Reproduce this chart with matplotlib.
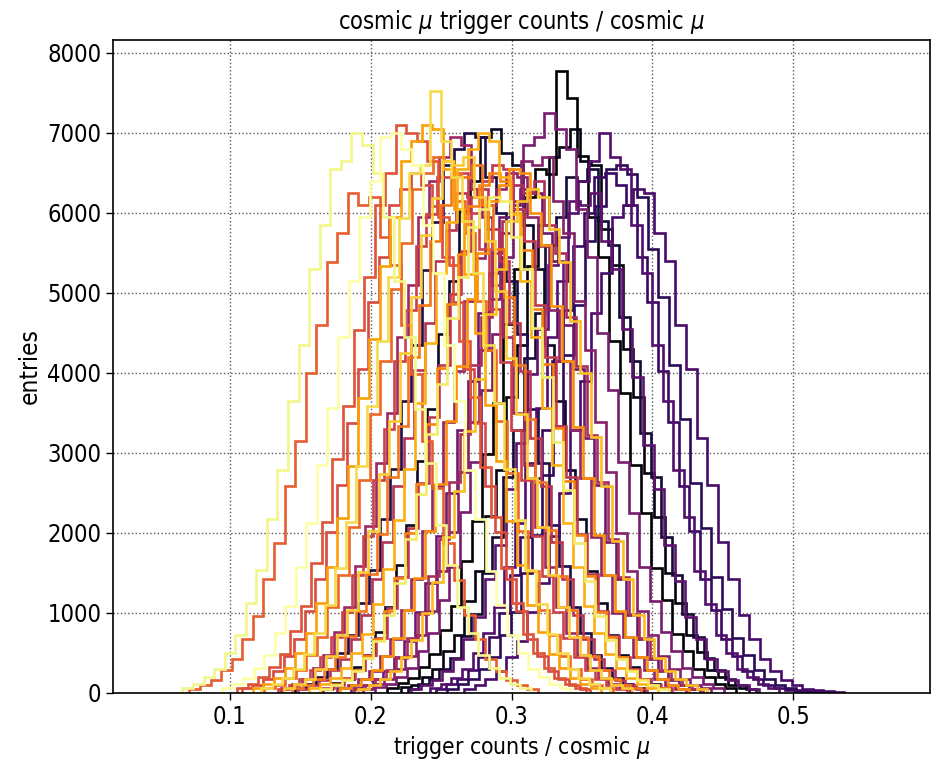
import numpy as np
import matplotlib
matplotlib.use("Agg")
import matplotlib.pyplot as plt

plt.rcParams["font.family"] = "DejaVu Sans"
plt.rcParams["font.stretch"] = "condensed"

# bin width shared by all runs, left edge of each run's first bin
bin_width = 0.0075
starts = [0.2116, 0.22125, 0.16525, 0.22625, 0.14625, 0.25425, 0.24625, 0.26625,
          0.24225, 0.22825, 0.18625, 0.20325, 0.19425, 0.17625, 0.13625, 0.18825,
          0.14825, 0.16625, 0.13425, 0.10825, 0.10525, 0.07125, 0.12425, 0.14425,
          0.16425, 0.17825, 0.11625, 0.15625, 0.19125, 0.13825, 0.12225, 0.16425,
          0.06625, 0.09425]

run_01 = [60, 120, 185, 330, 490, 790, 1090, 1650, 2150, 2980, 3620, 4610, 5300, 6200, 6550, 6480, 7770,
          7430, 6710, 5950, 5450, 4400, 3750, 2850, 2250, 1560, 1160, 740, 520, 300, 200, 110, 60]
run_02 = [70, 105, 200, 295, 520, 720, 1150, 1530, 2210, 2790, 3700, 4350, 5330, 5850, 6700, 6820, 7050,
          6650, 6600, 5800, 5350, 4300, 3700, 2750, 2200, 1500, 1130, 720, 510, 290, 200, 105, 60]
run_03 = [55, 120, 180, 320, 470, 760, 1070, 1600, 2100, 2900, 3550, 4480, 5150, 6020, 6400, 6950, 7050,
          6750, 6600, 5850, 5300, 4350, 3650, 2780, 2180, 1520, 1120, 730, 480, 320, 180, 110, 60]
run_04 = [50, 110, 170, 300, 440, 710, 990, 1500, 1950, 2700, 3280, 4180, 4750, 5600, 5950, 6450, 6400,
          6550, 5900, 5600, 4700, 4150, 3250, 2700, 1950, 1480, 990, 700, 440, 290, 170, 100, 55]
run_05 = [65, 110, 195, 300, 500, 730, 1120, 1540, 2180, 2800, 3650, 4350, 5280, 5880, 6600, 6800, 7000,
          6950, 6450, 6000, 5150, 4480, 3550, 2870, 2100, 1590, 1080, 750, 480, 310, 185, 110, 60]
run_06 = [55, 110, 175, 295, 450, 720, 1010, 1500, 1980, 2720, 3330, 4220, 4850, 5650, 6080, 6550, 6600,
          6480, 6200, 5550, 4950, 4100, 3420, 2620, 2060, 1450, 1050, 690, 470, 285, 180, 105, 60, 35, 20, 10]
run_07 = [50, 110, 170, 290, 450, 700, 1000, 1480, 1950, 2680, 3290, 4150, 4780, 5580, 6000, 6450, 6500,
          6350, 6100, 5450, 4880, 4020, 3380, 2580, 2020, 1420, 1040, 680, 460, 280, 180, 100, 60, 35, 20, 10]
run_08 = [55, 100, 170, 280, 450, 650, 1010, 1380, 1960, 2500, 3290, 3900, 4750, 5250, 5950, 6100, 6300,
          6250, 5750, 5400, 4600, 4050, 3180, 2600, 1890, 1430, 970, 680, 430, 280, 165, 100, 55, 35, 20, 10]
run_09 = [60, 115, 190, 300, 500, 750, 1080, 1580, 2120, 2870, 3560, 4450, 5150, 6000, 6400, 6650, 7000,
          6700, 6550, 5850, 5250, 4350, 3650, 2790, 2200, 1530, 1110, 730, 500, 300, 195, 110, 65]
run_10 = [50, 100, 160, 280, 420, 680, 950, 1420, 1850, 2550, 3120, 3980, 4550, 5350, 5700, 6150, 6100,
          6250, 5650, 5300, 4550, 3950, 3100, 2550, 1850, 1400, 950, 670, 420, 280, 160, 95, 55]
run_11 = [60, 95, 175, 270, 450, 650, 1010, 1380, 1960, 2500, 3290, 3900, 4750, 5250, 5950, 6100, 6300,
          6250, 5750, 5400, 4600, 4050, 3180, 2600, 1890, 1430, 970, 680, 430, 280, 165, 100, 55]
run_12 = [70, 110, 200, 310, 520, 750, 1160, 1580, 2260, 2880, 3780, 4480, 5450, 6050, 6850, 6950, 7250,
          7050, 6800, 6050, 5450, 4500, 3780, 2880, 2250, 1580, 1150, 760, 520, 310, 200, 110, 65]
run_13 = [55, 110, 175, 300, 460, 730, 1030, 1530, 2010, 2760, 3380, 4290, 4920, 5750, 6150, 6650, 6600,
          6700, 6150, 5750, 4900, 4280, 3380, 2760, 2000, 1520, 1030, 720, 460, 300, 175, 105, 60]
run_14 = [60, 100, 180, 280, 465, 670, 1040, 1420, 2020, 2580, 3380, 4020, 4900, 5430, 6100, 6300, 6500,
          6450, 5950, 5580, 4780, 4150, 3280, 2680, 1950, 1480, 1000, 700, 450, 290, 170, 105, 55]
run_15 = [60, 115, 180, 315, 475, 760, 1070, 1590, 2090, 2870, 3500, 4450, 5100, 5950, 6400, 6700, 6950,
          6850, 6300, 5950, 5100, 4450, 3500, 2850, 2080, 1580, 1070, 750, 480, 310, 185, 110, 60]
run_16 = [55, 105, 170, 290, 440, 690, 990, 1460, 1920, 2630, 3230, 4100, 4700, 5500, 5900, 6350, 6250,
          6400, 5850, 5500, 4700, 4080, 3220, 2630, 1920, 1450, 990, 690, 440, 285, 170, 100, 55]
run_17 = [55, 105, 165, 285, 430, 680, 970, 1430, 1890, 2590, 3180, 4030, 4620, 5400, 5780, 6250, 6200,
          6300, 5800, 5400, 4620, 4020, 3180, 2590, 1890, 1430, 970, 680, 430, 285, 165, 100, 55]
run_18 = [60, 100, 185, 285, 470, 690, 1060, 1450, 2060, 2620, 3450, 4100, 4980, 5520, 6200, 6400, 6600,
          6550, 6050, 5650, 4850, 4200, 3330, 2700, 1990, 1490, 1020, 710, 455, 295, 175, 105, 60]
run_19 = [55, 105, 170, 290, 450, 700, 1010, 1470, 1960, 2660, 3300, 4150, 4780, 5580, 5980, 6450, 6450,
          6500, 6000, 5550, 4800, 4130, 3290, 2660, 1960, 1460, 1010, 690, 450, 290, 175, 105, 55]
run_20 = [60, 100, 180, 280, 460, 680, 1030, 1430, 2010, 2600, 3370, 4050, 4880, 5450, 6100, 6300, 6500,
          6350, 6080, 5450, 4880, 4050, 3370, 2590, 2010, 1430, 1030, 680, 460, 280, 180, 100, 55]
run_21 = [65, 110, 195, 320, 490, 770, 1090, 1620, 2140, 2920, 3580, 4540, 5200, 6100, 6500, 7100, 7000,
          6900, 6650, 5950, 5350, 4400, 3700, 2820, 2200, 1560, 1130, 740, 500, 310, 190, 115, 60]
run_22 = [55, 105, 165, 285, 430, 680, 960, 1420, 1880, 2580, 3150, 4000, 4600, 5380, 5750, 6250, 6100,
          6200, 5700, 5350, 4600, 3980, 3150, 2560, 1880, 1410, 970, 670, 430, 280, 165, 100, 55]
run_23 = [60, 105, 185, 290, 475, 700, 1070, 1470, 2080, 2660, 3490, 4150, 5050, 5620, 6300, 6500, 6700,
          6650, 6150, 5750, 4900, 4280, 3400, 2750, 2020, 1520, 1040, 720, 465, 300, 180, 105, 60]
run_24 = [60, 105, 180, 295, 455, 710, 1020, 1490, 1990, 2700, 3340, 4200, 4850, 5650, 6100, 6500, 6450,
          6600, 6100, 5550, 4950, 4100, 3420, 2640, 2040, 1460, 1040, 700, 465, 290, 180, 105, 60]
run_25 = [55, 110, 175, 290, 460, 680, 1030, 1440, 2000, 2610, 3360, 4060, 4860, 5480, 6080, 6350, 6500,
          6400, 6000, 5530, 4800, 4110, 3310, 2650, 1970, 1460, 1010, 695, 450, 290, 175, 100, 60]
run_26 = [60, 100, 180, 285, 465, 690, 1040, 1440, 2030, 2610, 3400, 4080, 4920, 5500, 6150, 6350, 6550,
          6500, 6000, 5600, 4830, 4150, 3320, 2680, 1980, 1470, 1020, 700, 455, 290, 175, 105, 55]
run_27 = [65, 115, 190, 315, 500, 745, 1120, 1570, 2190, 2840, 3680, 4420, 5330, 5950, 6650, 6900, 7100,
          7050, 6550, 6050, 5230, 4500, 3600, 2900, 2150, 1600, 1100, 760, 490, 315, 190, 115, 65]
run_28 = [60, 115, 185, 310, 495, 735, 1110, 1550, 2160, 2800, 3620, 4370, 5250, 5880, 6550, 6800, 7000,
          6900, 6450, 5980, 5150, 4450, 3560, 2850, 2120, 1580, 1090, 750, 485, 310, 190, 110, 65]
run_29 = [55, 100, 170, 280, 445, 660, 1000, 1390, 1950, 2520, 3270, 3920, 4730, 5300, 5900, 6150, 6300,
          6200, 5800, 5380, 4650, 4000, 3200, 2580, 1900, 1420, 980, 670, 440, 275, 170, 100, 55]
run_30 = [60, 110, 180, 300, 465, 720, 1040, 1510, 2030, 2740, 3400, 4250, 4950, 5720, 6180, 6650, 6600,
          6700, 6200, 5650, 5020, 4180, 3480, 2680, 2080, 1480, 1070, 700, 470, 290, 185, 105, 60]
run_31 = [60, 110, 190, 305, 490, 745, 1100, 1560, 2140, 2830, 3590, 4400, 5200, 5930, 6500, 6600, 7520,
          6900, 6450, 5900, 5250, 4350, 3620, 2800, 2160, 1540, 1110, 740, 495, 300, 190, 110, 60]
run_32 = [55, 100, 165, 275, 440, 650, 980, 1370, 1920, 2480, 3230, 3860, 4680, 5200, 5820, 6050, 6200,
          6150, 5700, 5300, 4560, 3950, 3140, 2540, 1870, 1400, 960, 665, 430, 275, 165, 100, 55]
run_33 = [65, 110, 195, 300, 500, 730, 1120, 1540, 2180, 2780, 3650, 4350, 5300, 5850, 6550, 6650, 7000,
          6850, 6500, 5950, 5150, 4450, 3550, 2870, 2100, 1600, 1080, 750, 480, 310, 185, 110, 60]
run_34 = [60, 115, 185, 310, 480, 750, 1090, 1580, 2120, 2850, 3560, 4450, 5150, 5950, 6400, 6950, 7000,
          6800, 6600, 5850, 5250, 4350, 3650, 2780, 2180, 1530, 1100, 730, 500, 300, 195, 110, 65]

runs = [run_01, run_02, run_03, run_04, run_05, run_06, run_07, run_08, run_09, run_10,
        run_11, run_12, run_13, run_14, run_15, run_16, run_17, run_18, run_19, run_20,
        run_21, run_22, run_23, run_24, run_25, run_26, run_27, run_28, run_29, run_30,
        run_31, run_32, run_33, run_34]

fig = plt.figure(figsize=(9.34, 7.67), dpi=100)
ax = fig.add_axes([0.121, 0.0965, 0.8747, 0.8515])

cmap = plt.get_cmap("inferno")
n = len(runs)
for i, (s, c) in enumerate(zip(starts, runs)):
    edges = s + bin_width * np.arange(len(c) + 1)
    ax.stairs(c, edges, color=cmap(i / (n - 1)), lw=1.9)

ax.set_xlim(0.017, 0.597)
ax.set_ylim(0, 8160)
ax.grid(True, ls=":", color="0.35", lw=1.0)
ax.set_axisbelow(True)
ax.tick_params(labelsize=17, length=5, width=1)
for sp in ax.spines.values():
    sp.set_linewidth(1.2)

ax.set_title(r"cosmic $\mu$ trigger counts / cosmic $\mu$", fontsize=17, pad=8)
ax.set_xlabel(r"trigger counts / cosmic $\mu$", fontsize=16.5)
ax.set_ylabel("entries", fontsize=17.5)

fig.savefig("out.png", dpi=100)
